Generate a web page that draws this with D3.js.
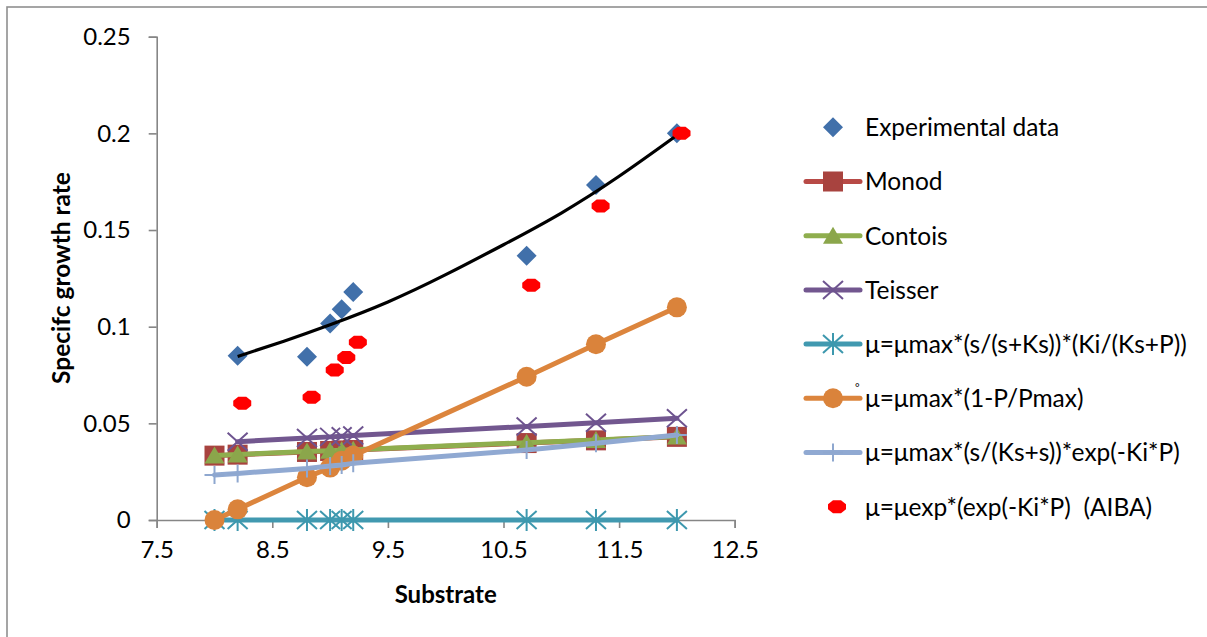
<!DOCTYPE html>
<html><head><meta charset="utf-8">
<script src="https://cdn.jsdelivr.net/npm/d3@7"></script>
<style>body{margin:0;background:#fff}svg{display:block}text{font-family:Lato,"Open Sans",sans-serif;white-space:pre}</style>
</head><body>
<svg id="c" width="1207" height="637"></svg>
<script>
// ---- data ----
const expX = [8.2, 8.8, 9.0, 9.1, 9.2, 10.7, 11.3, 12.0];
const expY = [0.085, 0.0845, 0.1017, 0.109, 0.118, 0.1367, 0.1733, 0.200];
const trendX = [8.2, 8.6, 9.0, 9.5, 10.0, 10.5, 11.0, 11.5, 12.0];
const trendY = [0.0846, 0.0925, 0.101, 0.1128, 0.1269, 0.1424, 0.1588, 0.1778, 0.199];
const modelX = [8.0, 8.2, 8.8, 9.0, 9.1, 9.2, 10.7, 11.3, 12.0];
const monodY = [0.0333, 0.0338, 0.0352, 0.0357, 0.0360, 0.0362, 0.0398, 0.0412, 0.0430];
const contoisY = [0.0334, 0.0339, 0.0354, 0.0358, 0.0361, 0.0364, 0.0400, 0.0414, 0.0432];
const teisserX = [8.2, 8.8, 9.0, 9.1, 9.2, 10.7, 11.3, 12.0];
const teisserY = [0.0405, 0.0424, 0.0430, 0.0433, 0.0437, 0.0484, 0.0503, 0.0526];
const ksPY = [0, 0, 0, 0, 0, 0, 0, 0, 0];
const pmaxY = [0, 0.0055, 0.0221, 0.0271, 0.0307, 0.0333, 0.0741, 0.0909, 0.110];
const expKiY = [0.0233, 0.0241, 0.0267, 0.0279, 0.0284, 0.0293, 0.0362, 0.0397, 0.0440];
const aibaX = [8.24, 8.84, 9.04, 9.14, 9.24, 10.74, 11.34, 12.04];
const aibaY = [0.0604, 0.0635, 0.0776, 0.084, 0.092, 0.1214, 0.1624, 0.200];
const xTicks = [7.5, 8.5, 9.5, 10.5, 11.5, 12.5];
const yTicks = [0, 0.05, 0.1, 0.15, 0.2, 0.25];
const legendLabels = ["Experimental data", "Monod", "Contois", "Teisser",
  "μ=μmax*(s/(s+Ks))*(Ki/(Ks+P))", "μ=μmax*(1-P/Pmax)",
  "μ=μmax*(s/(Ks+s))*exp(-Ki*P)", "μ=μexp*(exp(-Ki*P)  (AIBA)"];

// ---- layout ----
const svg = d3.select("#c");
const x = d3.scaleLinear().domain([7.5, 12.5]).range([156.7, 734.7]);
const y = d3.scaleLinear().domain([0, 0.25]).range([520, 36.7]);

svg.append("rect").attr("x", 7).attr("y", 7).attr("width", 1220).attr("height", 650)
  .attr("fill", "none").attr("stroke", "#8f8f8f").attr("stroke-width", 1.6);

const axisColor = "#868686";
const gx = svg.append("g").attr("transform", "translate(0,520)")
  .call(d3.axisBottom(x).tickValues(xTicks).tickFormat(d3.format(".1f")).tickSize(8).tickPadding(13));
const gy = svg.append("g").attr("transform", "translate(156.7,0)")
  .call(d3.axisLeft(y).tickValues(yTicks).tickFormat(d => d === 0 ? "0" : String(+d.toFixed(2))).tickSize(8).tickPadding(18));
[gx, gy].forEach(g => {
  g.select(".domain").attr("stroke", axisColor).attr("stroke-width", 1.6);
  g.selectAll(".tick line").attr("stroke", axisColor).attr("stroke-width", 1.6);
  g.selectAll(".tick text").attr("fill", "#000").style("font-size", "24px");
});

svg.append("text").attr("x", 445.7).attr("y", 603).attr("text-anchor", "middle")
  .style("font-size", "24px").style("font-weight", "bold").text("Substrate");
svg.append("text").attr("transform", "translate(70,278) rotate(-90)").attr("text-anchor", "middle")
  .style("font-size", "24.5px").style("font-weight", "bold").text("Specifc growth rate");

// ---- marker drawers ----
const M = {
  diamond: (g, c) => g.append("path").attr("d", "M0,-10L10,0L0,10L-10,0Z").attr("fill", c),
  square: (g, c) => g.append("rect").attr("x", -10).attr("y", -10).attr("width", 20).attr("height", 20).attr("fill", c),
  triangle: (g, c) => g.append("path").attr("d", "M0,-9L10,8L-10,8Z").attr("fill", c),
  cross: (g, c) => g.append("path").attr("d", "M-10,-9L10,9M-10,9L10,-9").attr("stroke", c).attr("stroke-width", 2).attr("fill", "none"),
  star: (g, c) => g.append("path").attr("d", "M-10,-9L10,9M-10,9L10,-9M0,-11L0,11").attr("stroke", c).attr("stroke-width", 2).attr("fill", "none"),
  circle: (g, c) => g.append("circle").attr("r", 10).attr("fill", c),
  plus: (g, c) => g.append("path").attr("d", "M0,-9L0,9M-10,0L10,0").attr("stroke", c).attr("stroke-width", 2).attr("fill", "none"),
  oval: (g, c) => g.append("path").attr("d", "M-4,-6.5L4,-6.5L9,-2.5L9,2.5L4,6.5L-4,6.5L-9,2.5L-9,-2.5Z").attr("fill", c)
};

const line = d3.line().x(d => x(d[0])).y(d => y(d[1]));
const series = [
  {xs: expX, ys: expY, marker: "diamond", mc: "#4170aa", lc: null},
  {xs: modelX, ys: monodY, marker: "square", mc: "#a8433f", lc: "#b84a46"},
  {xs: modelX, ys: contoisY, marker: "triangle", mc: "#8ba64b", lc: "#8fae4e"},
  {xs: teisserX, ys: teisserY, marker: "cross", mc: "#6e5490", lc: "#72578f"},
  {xs: modelX, ys: ksPY, marker: "star", mc: "#3d98ae", lc: "#4199b0"},
  {xs: modelX, ys: pmaxY, marker: "circle", mc: "#da833b", lc: "#dc853d"},
  {xs: modelX, ys: expKiY, marker: "plus", mc: "#8ea7cf", lc: "#90a9d2"},
  {xs: aibaX, ys: aibaY, marker: "oval", mc: "#ff0000", lc: null}
];

series.forEach((s, i) => {
  const pts = s.xs.map((v, k) => [v, s.ys[k]]);
  const g = svg.append("g");
  if (s.lc) g.append("path").datum(pts).attr("d", line).attr("fill", "none")
    .attr("stroke", s.lc).attr("stroke-width", 5).attr("stroke-linejoin", "round").attr("stroke-linecap", "round");
  pts.forEach(p => M[s.marker](g.append("g").attr("transform", `translate(${x(p[0])},${y(p[1])})`), s.mc));
  if (i === 0) {
    const tp = trendX.map((v, k) => [v, trendY[k]]);
    svg.append("path").datum(tp).attr("d", d3.line().x(d => x(d[0])).y(d => y(d[1])).curve(d3.curveNatural))
      .attr("fill", "none").attr("stroke", "#000").attr("stroke-width", 3.2);
  }
});

// ---- legend ----
const legY0 = 127.3, legStep = 54.2;
series.forEach((s, i) => {
  const ly = legY0 + i * legStep;
  const g = svg.append("g");
  if (s.lc) g.append("line").attr("x1", 806).attr("x2", 860).attr("y1", ly).attr("y2", ly)
    .attr("stroke", s.lc).attr("stroke-width", 5).attr("stroke-linecap", "round");
  const mx = (i === 7) ? 837 : 833;
  M[s.marker](g.append("g").attr("transform", `translate(${mx},${ly})`), s.mc);
  g.append("text").attr("x", 865).attr("y", ly).attr("dy", "0.36em").style("font-size", "24.5px").text(legendLabels[i]);
});
svg.append("text").attr("x", 855).attr("y", 392).style("font-size", "11px").text("°");
</script>
</body></html>
